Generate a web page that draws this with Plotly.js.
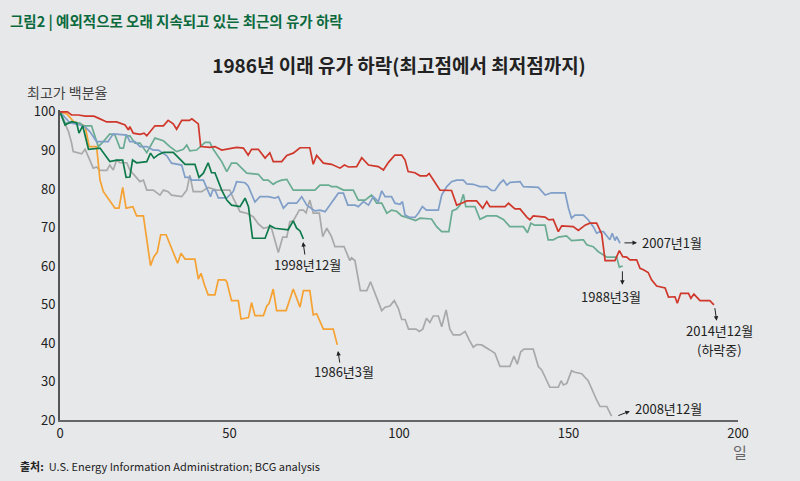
<!DOCTYPE html>
<html>
<head>
<meta charset="utf-8">
<script src="https://cdn.plot.ly/plotly-3.0.1.min.js"></script>
<style>
html,body{margin:0;padding:0;background:#e7e8ea;}
#chart{width:800px;height:481px;}
</style>
</head>
<body>
<div id="chart"></div>
<script>
// ---- Data (trading days since peak, % of peak price) ----
const days1986 = [0, 2, 4, 7.4, 8.6, 10.8, 11.8, 12.8, 15.2, 16.2, 17.4, 18.5, 19.5, 21.5, 22.6, 24.6, 26.7, 27.7, 28.7, 29.7, 31.3, 32.9, 34.7, 35.7, 36.9, 39.8, 40.8, 41.6, 42.6, 43.7, 45.7, 46.7, 48.7, 49.2, 50.6, 52.6, 53.4, 55.6, 56.5, 57.5, 60.0, 61.0, 61.7, 62.9, 63.9, 66.7, 68.8, 70.8, 71.8, 73.7, 74.7, 75.7, 77.7, 80.6, 81.8];
const pct1986  = [100, 99.5, 97.5, 96.4, 91.0, 91.0, 82.3, 79.3, 76.3, 75.0, 75.0, 80.4, 75.0, 75.4, 73.0, 73.0, 60.1, 62.4, 63.6, 68.1, 68.1, 64.6, 60.7, 63.3, 61.8, 61.8, 56.6, 58.1, 55.1, 52.5, 52.5, 56.4, 56.4, 55.9, 51.0, 51.0, 46.2, 46.6, 50.5, 47.1, 47.1, 49.6, 50.3, 54.0, 48.4, 48.4, 54.0, 49.3, 53.6, 53.6, 47.3, 47.6, 43.6, 43.6, 39.5];

const days1998 = [0, 1.5, 3.4, 4.9, 5.6, 6.7, 8.4, 11.8, 14.7, 16.7, 18.5, 19.5, 20.6, 21.4, 22.6, 25.6, 26.7, 27.7, 29.0, 30.5, 33.4, 36.9, 39.8, 41.0, 42.3, 43.7, 44.7, 45.7, 47.7, 49.2, 50.6, 53.1, 54.6, 55.6, 56.8, 59.0, 60.5, 61.9, 63.4, 67.3, 68.8, 69.8, 70.8, 71.8];
const pct1998  = [100, 96.6, 97.5, 97.2, 94.5, 96.4, 90.3, 90.6, 87.1, 87.5, 87.5, 83.0, 83.1, 87.5, 86.8, 87.1, 89.3, 88.0, 88.9, 89.5, 89.5, 86.4, 86.4, 83.0, 84.1, 86.8, 84.2, 84.2, 79.7, 77.1, 75.8, 75.4, 77.6, 75.4, 67.2, 67.2, 67.2, 70.5, 69.8, 69.4, 71.7, 69.8, 69.1, 67.0];

const days2014 = [0, 2.2, 3.4, 5.4, 7.5, 10, 11.8, 13.8, 16.7, 19.2, 20.2, 20.6, 21.6, 23.6, 24.8, 25.6, 28.0, 30.5, 31.9, 33.4, 34.4, 35.9, 38.2, 38.9, 40.8, 41.5, 44.2, 45.7, 47.7, 50.1, 52.1, 54.1, 55.5, 56.5, 58.5, 60.5, 61.9, 62.9, 65.4, 66.9, 68.8, 70.8, 73.7, 74.7, 75.7, 77.7, 80.1, 82.6, 83.9, 85.1, 87.5, 89.0, 91.0, 93.9, 95.4, 96.9, 98.8, 100.8, 101.8, 102.7, 104.7, 106.2, 108.1, 108.9, 112.1, 115.5, 117.0, 118.5, 120.0, 122.9, 124.7, 125.9, 126.8, 131.3, 132.3, 134.2, 135.7, 137.7, 138.6, 139.6, 143.1, 144.1, 145.5, 147.0, 148.0, 151.4, 152.9, 154.9, 156.3, 158.3, 159.8, 160.8, 163.7, 165.0, 166.0, 167.2, 168.1, 170.1, 171.1, 172.1, 173.5, 174.5, 176.0, 178.5, 179.5, 181.4, 182.1, 183.1, 185.4, 186.1, 187.0, 188.8, 191.7, 192.9];
const pct2014  = [100, 100, 99.2, 99.2, 98.9, 98.9, 98.2, 97.4, 97.4, 96.6, 95.3, 96.2, 94.5, 94.2, 94.5, 93.8, 96.4, 96.4, 97.8, 96.9, 95.5, 97.8, 97.8, 98.2, 96.9, 91.0, 90.8, 91.0, 90.1, 90.5, 90.8, 90.6, 88.8, 90.3, 90.3, 88.0, 89.4, 87.1, 87.1, 88.7, 89.3, 90.7, 90.7, 86.4, 88.7, 86.7, 86.4, 85.4, 86.2, 85.7, 85.8, 88.1, 86.2, 85.8, 84.9, 86.9, 88.8, 88.8, 87.5, 84.5, 84.2, 83.4, 83.4, 84.0, 79.7, 79.6, 75.8, 76.3, 76.9, 76.9, 75.0, 76.7, 75.4, 75.4, 76.3, 74.8, 74.8, 72.7, 72.0, 73.0, 72.7, 72.0, 72.1, 68.9, 70.4, 70.2, 69.2, 70.6, 71.1, 71.1, 68.3, 61.4, 61.4, 64.0, 62.4, 62.3, 61.6, 61.6, 59.4, 59.0, 58.3, 56.4, 54.8, 54.3, 51.9, 52.0, 50.3, 52.9, 52.9, 51.6, 52.7, 51.0, 51.0, 49.9];

const days2007 = [0, 0.7, 2.9, 5.9, 7.4, 8.8, 10.8, 14.2, 15.7, 19.7, 20.6, 22.1, 23.6, 25.6, 27.5, 29.0, 31.5, 32.9, 35.9, 36.9, 38.3, 38.8, 42.3, 43.3, 44.4, 45.0, 45.8, 46.7, 49.2, 51.1, 52.1, 54.6, 55.5, 57.5, 59.0, 61.4, 63.4, 64.4, 65.9, 67.3, 69.8, 71.3, 72.8, 75.2, 76.7, 78.2, 80.1, 82.1, 83.6, 84.9, 87.1, 88.0, 89.5, 91.0, 92.4, 93.9, 94.9, 95.9, 97.8, 98.8, 100.3, 101.0, 101.8, 103.2, 104.7, 105.7, 106.9, 108.1, 111.6, 112.6, 114.1, 115.5, 117.0, 119.0, 120.0, 121.9, 123.9, 125.9, 127.3, 128.3, 129.8, 130.8, 131.8, 132.8, 135.7, 136.7, 141.1, 143.1, 145.0, 149.0, 150.0, 150.9, 151.9, 154.4, 155.8, 157.3, 158.3, 159.3, 160.3, 162.2, 162.9, 163.7, 164.2, 165.2];
const pct2007  = [100, 99.3, 97.2, 96.6, 96.1, 94.9, 92.3, 92.3, 94.3, 94.0, 92.3, 92.3, 91.0, 91.0, 90.1, 90.1, 88.6, 86.7, 86.2, 83.0, 83.0, 82.3, 82.3, 80.2, 78.0, 79.6, 79.6, 77.7, 77.7, 79.3, 81.9, 81.6, 80.8, 76.6, 78.0, 78.0, 77.6, 78.0, 75.0, 76.3, 76.3, 78.0, 75.8, 74.3, 74.5, 74.1, 76.3, 78.9, 78.9, 75.8, 75.8, 75.4, 76.7, 75.8, 78.0, 76.7, 79.5, 78.0, 78.0, 76.3, 76.0, 76.7, 73.2, 72.6, 72.6, 73.7, 75.4, 74.5, 74.5, 78.4, 80.6, 81.9, 82.3, 82.3, 81.3, 81.2, 80.6, 80.6, 79.6, 79.6, 81.5, 82.3, 81.0, 81.7, 81.9, 80.6, 80.4, 78.4, 79.0, 79.0, 75.0, 72.4, 73.2, 73.2, 72.0, 70.2, 68.5, 68.9, 68.9, 66.8, 68.5, 66.6, 67.6, 65.9];

const days1988 = [0, 1.5, 5.9, 6.9, 9.3, 11.3, 12.8, 14.7, 16.2, 17.7, 18.7, 19.5, 20.6, 22.1, 23.6, 25.6, 28.0, 30.5, 32.4, 34.4, 36.4, 37.4, 38.3, 40.3, 42.8, 44.2, 45.2, 47.7, 49.2, 50.6, 52.1, 53.6, 55.1, 58.5, 60.0, 61.4, 62.9, 63.9, 65.4, 66.9, 68.8, 75.2, 76.7, 79.2, 80.1, 81.6, 83.6, 86.5, 88.0, 90.0, 91.9, 93.4, 94.9, 96.4, 97.8, 99.3, 100.8, 102.3, 103.7, 104.9, 106.2, 109.6, 111.1, 112.6, 114.7, 115.7, 117.0, 118.0, 119.0, 119.7, 122.4, 123.9, 125.9, 128.8, 130.8, 132.7, 136.7, 137.9, 138.9, 140.0, 143.1, 144.0, 145.5, 147.0, 149.4, 150.9, 153.9, 154.4, 155.4, 157.3, 158.8, 160.3, 161.3, 164.2, 165.0, 166.0];
const pct1988  = [100, 97.1, 97.1, 96.4, 96.4, 91.0, 92.3, 94.3, 94.0, 90.6, 90.6, 93.8, 93.8, 91.9, 91.9, 89.4, 93.2, 92.5, 91.0, 89.7, 90.3, 91.4, 89.9, 90.1, 92.1, 92.1, 90.3, 87.1, 84.5, 86.7, 86.7, 85.4, 84.1, 83.8, 82.3, 82.3, 81.2, 81.8, 82.3, 82.5, 79.7, 79.7, 81.0, 81.0, 80.6, 80.6, 79.7, 79.7, 77.1, 77.1, 78.4, 76.3, 76.3, 73.7, 74.5, 74.2, 73.0, 72.6, 72.1, 71.8, 72.4, 72.2, 70.2, 68.9, 68.9, 74.3, 74.8, 75.8, 78.6, 75.4, 75.4, 72.1, 73.0, 73.0, 72.1, 70.2, 70.2, 68.6, 71.1, 70.6, 70.6, 66.8, 66.8, 67.5, 67.8, 66.6, 66.8, 66.8, 65.5, 65.0, 63.7, 62.9, 62.3, 62.3, 59.7, 60.0];

const days2008 = [0, 1.2, 2.5, 3.4, 3.9, 6.4, 7.4, 8.8, 9.8, 10.8, 11.8, 13.8, 14.7, 15.7, 16.7, 17.7, 19.7, 20.6, 22.6, 23.6, 24.6, 25.6, 27.5, 29.5, 30.5, 31.9, 32.9, 35.9, 37.4, 38.3, 39.3, 41.8, 43.7, 46.2, 50.1, 51.1, 53.1, 55.1, 57.0, 58.5, 60.0, 61.4, 62.4, 64.4, 65.7, 66.9, 67.8, 68.8, 70.6, 71.8, 72.6, 73.7, 74.7, 76.5, 77.5, 78.7, 80.1, 81.1, 83.8, 85.5, 86.0, 87.0, 88.6, 90.5, 91.6, 92.9, 94.9, 95.9, 97.3, 98.6, 99.8, 100.8, 101.8, 102.8, 105.0, 106.0, 107.0, 108.1, 109.1, 110.1, 111.6, 112.6, 113.9, 115.0, 116.0, 118.0, 119.5, 120.7, 121.9, 122.9, 124.4, 126.8, 128.3, 129.8, 132.7, 133.9, 134.9, 135.9, 136.9, 139.6, 141.1, 142.1, 144.5, 147.0, 147.8, 148.5, 149.5, 150.9, 151.9, 153.9, 155.8, 158.3, 159.3, 161.3, 162.7];
const pct2008  = [100, 97.5, 94.9, 92.0, 89.7, 89.1, 90.3, 87.5, 85.4, 85.7, 84.8, 84.8, 86.2, 84.9, 87.5, 86.8, 86.8, 84.9, 82.8, 81.9, 82.3, 79.7, 79.7, 78.4, 79.7, 79.3, 78.4, 78.0, 79.7, 83.6, 79.3, 79.3, 80.4, 79.7, 79.7, 77.6, 74.1, 73.7, 72.8, 70.9, 69.8, 70.1, 69.8, 63.5, 67.5, 67.5, 71.5, 71.7, 74.5, 74.5, 73.8, 77.1, 73.7, 73.7, 67.6, 69.8, 67.6, 65.0, 65.0, 61.4, 62.1, 61.4, 53.6, 53.6, 55.9, 53.0, 48.4, 49.3, 49.6, 51.0, 49.0, 46.1, 46.1, 43.6, 43.6, 43.0, 43.6, 46.4, 45.3, 47.0, 47.0, 44.2, 48.6, 43.6, 42.1, 42.1, 43.0, 40.8, 38.9, 39.6, 39.5, 38.2, 37.3, 33.9, 33.9, 36.6, 34.5, 37.7, 38.4, 38.4, 33.9, 33.0, 28.5, 28.5, 30.2, 29.1, 29.5, 32.8, 32.4, 32.0, 30.2, 25.2, 23.5, 23.5, 21.0];

const xTicks = [0, 50, 100, 150, 200];
const yTicks = [20, 30, 40, 50, 60, 70, 80, 90, 100];

const headerText = '그림2 | 예외적으로 오래 지속되고 있는 최근의 유가 하락';
const chartTitle = '1986년 이래 유가 하락(최고점에서 최저점까지)';
const yTitle = '최고가 백분율';
const xTitle = '일';
const sourceText = '<b>출처:</b>  U.S. Energy Information Administration; BCG analysis';

const FONT = '"Noto Sans CJK KR", "Noto Sans", sans-serif';
const BG = '#e7e8ea';

function line(x, y, color, name) {
  return {x: x, y: y, type: 'scatter', mode: 'lines', name: name,
          line: {color: color, width: 1.7, shape: 'linear'}, hoverinfo: 'skip'};
}

const traces = [
  line(days2008, pct2008, '#a9a9a9', '2008'),
  line(days1986, pct1986, '#f5a233', '1986'),
  line(days1988, pct1988, '#6aac92', '1988'),
  line(days2007, pct2007, '#7f9ec8', '2007'),
  line(days1998, pct1998, '#0e7a4b', '1998'),
  line(days2014, pct2014, '#d0372b', '2014')
];

const arrowStyle = {showarrow: true, arrowhead: 2, arrowsize: 0.9, arrowwidth: 1, arrowcolor: '#222', text: '', xref: 'x', yref: 'y'};
const lblFont = {family: FONT, size: 13, color: '#222'};

const annotations = [
  {xref: 'paper', yref: 'paper', x: -0.0767, y: 1.29, xanchor: 'left', yanchor: 'middle', showarrow: false,
   text: '<b>' + headerText + '</b>', font: {family: FONT, size: 14.5, color: '#0b6a3d'}},
  {xref: 'paper', yref: 'paper', x: -0.0516, y: 1.058, xanchor: 'left', yanchor: 'middle', showarrow: false,
   text: yTitle, font: {family: FONT, size: 14, color: '#444'}},
  {xref: 'paper', yref: 'paper', x: 1.003, y: -0.103, xanchor: 'center', yanchor: 'middle', showarrow: false,
   text: xTitle, font: {family: FONT, size: 15, color: '#666'}},
  {xref: 'paper', yref: 'paper', x: -0.062, y: -0.148, xanchor: 'left', yanchor: 'middle', showarrow: false,
   text: sourceText, font: {family: FONT, size: 11, color: '#222'}},
  // series labels
  {xref: 'x', yref: 'y', x: 171.1, y: 66.0, xanchor: 'left', yanchor: 'middle', showarrow: false, text: '2007년1월', font: lblFont},
  Object.assign({}, arrowStyle, {x: 170.2, y: 66.0, ax: -14, ay: 0}),
  {xref: 'x', yref: 'y', x: 72.9, y: 60.5, xanchor: 'center', yanchor: 'middle', showarrow: false, text: '1998년12월', font: lblFont},
  Object.assign({}, arrowStyle, {x: 71.7, y: 66.2, ax: 2, ay: 14}),
  {xref: 'x', yref: 'y', x: 83.8, y: 32.5, xanchor: 'center', yanchor: 'middle', showarrow: false, text: '1986년3월', font: lblFont},
  Object.assign({}, arrowStyle, {x: 82.0, y: 37.9, ax: 2, ay: 13}),
  {xref: 'x', yref: 'y', x: 162.5, y: 52.2, xanchor: 'center', yanchor: 'middle', showarrow: false, text: '1988년3월', font: lblFont},
  Object.assign({}, arrowStyle, {x: 165.9, y: 55.1, ax: 0, ay: -15}),
  {xref: 'x', yref: 'y', x: 194.4, y: 43.3, xanchor: 'center', yanchor: 'middle', showarrow: false, borderpad: 0, text: '2014년12월', font: lblFont},
  {xref: 'x', yref: 'y', x: 194.4, y: 38.3, xanchor: 'center', yanchor: 'middle', showarrow: false, borderpad: 0, text: '(하락중)', font: lblFont},
  Object.assign({}, arrowStyle, {x: 193.7, y: 45.8, ax: -2, ay: -14}),
  {xref: 'x', yref: 'y', x: 169.0, y: 23.1, xanchor: 'left', yanchor: 'middle', showarrow: false, text: '2008년12월', font: lblFont},
  Object.assign({}, arrowStyle, {x: 168.1, y: 22.3, ax: -13, ay: 5})
];

const layout = {
  width: 800, height: 481,
  paper_bgcolor: BG, plot_bgcolor: BG,
  margin: {l: 60, r: 62, t: 110, b: 61, pad: 0},
  showlegend: false,
  title: {text: chartTitle, x: 0.5, xref: 'paper', xanchor: 'center', y: 1 - 66/481, yref: 'container', yanchor: 'middle',
          font: {family: FONT, size: 19, color: '#222', weight: 'bold'}},
  font: {family: FONT, color: '#222'},
  xaxis: {range: [0, 200], tickvals: xTicks, ticktext: xTicks.map(String), showgrid: false, zeroline: false,
          showline: true, linecolor: '#666', linewidth: 2, ticks: '', tickfont: {family: FONT, size: 13, color: '#222'}},
  yaxis: {range: [20, 100.5], tickvals: yTicks, ticktext: yTicks.map(String), showgrid: false, zeroline: false,
          showline: true, linecolor: '#555', linewidth: 2, ticks: '', ticklabelstandoff: 0, tickfont: {family: FONT, size: 13, color: '#222'}},
  annotations: annotations
};

Plotly.newPlot('chart', traces, layout, {displayModeBar: false, staticPlot: true});
</script>
</body>
</html>
